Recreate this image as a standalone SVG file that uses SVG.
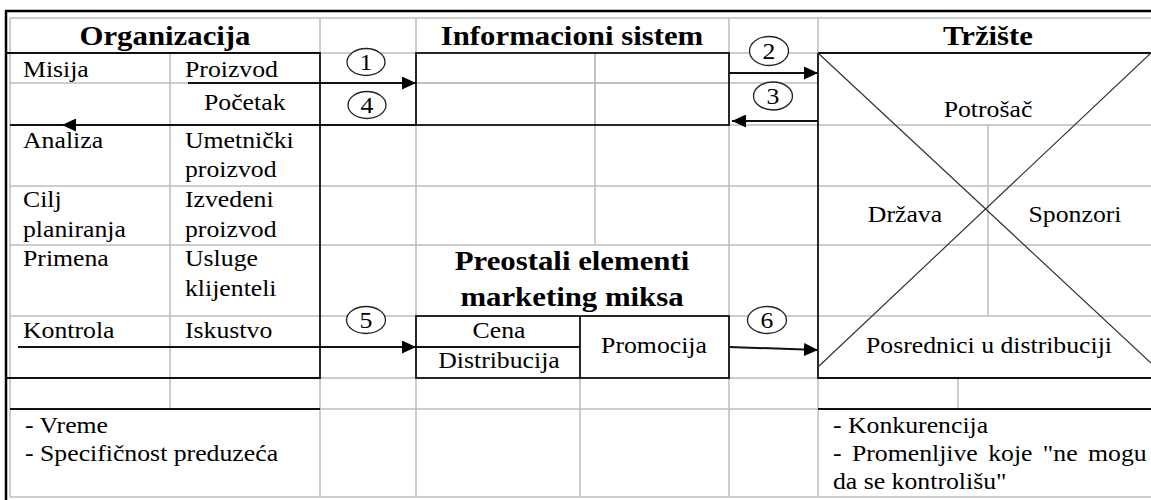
<svg xmlns="http://www.w3.org/2000/svg" width="1151" height="500" viewBox="0 0 1151 500">
<style>
.g{stroke:#bdbdbd;stroke-width:1.5;fill:none}
.b{stroke:#111;stroke-width:1.8;fill:none}
.d{stroke:#333;stroke-width:1.2;fill:none}
.t{font-size:23px;fill:#000}
.h{font-size:28px;font-weight:bold;fill:#000}
.m{text-anchor:middle}
.c{fill:#fff;stroke:#222;stroke-width:1.3}
.a{stroke:#111;stroke-width:2;fill:none;marker-end:url(#ah)}
</style>
<defs>
<marker id="ah" viewBox="0 0 14 13" refX="14" refY="6.5" markerWidth="14" markerHeight="13" markerUnits="userSpaceOnUse" orient="auto">
<path d="M0,0 L14,6.5 L0,13 z" fill="#000"/>
</marker>
</defs>
<rect width="1151" height="500" fill="#fff"/>
<g id="grid">
<path class="g" d="M10,18H1151 M10,83H818 M729,53H818 M320,53H416 M10,186H1151 M10,245H1151 M10,316H416 M729,316H1151 M320,378H416 M729,378H818 M320,409H818 M10,497H1151 M729,125H1151"/>
<path class="g" d="M10,18V497 M170,53V409 M320,18V53 M320,378V497 M416,18V53 M416,126V316 M416,378V497 M595,53V245 M580,378V497 M729,18V53 M729,126V316 M729,378V497 M818,18V53 M818,378V497 M988,125V316 M958,378V409"/>
<path d="M5,11H1151 M6,11V500" stroke="#000" stroke-width="2.5" fill="none"/>
</g>
<g font-family="Liberation Serif, Tinos, Times New Roman, DejaVu Serif, serif">
<g id="organizacija">
<path class="b" d="M6,53H320V378H6 M10,125H62 M10,409H320"/>
<text class="h m" transform="translate(165 45) scale(1.1 1)">Organizacija</text>
<text class="t" transform="translate(23 77) scale(1.12 1)">Misija</text>
<text class="t" transform="translate(185 77) scale(1.12 1)">Proizvod</text>
<text class="t" transform="translate(204 110) scale(1.12 1)">Početak</text>
<text class="t" transform="translate(23 148) scale(1.12 1)">Analiza</text>
<text class="t" transform="translate(185 148) scale(1.12 1)">Umetnički</text>
<text class="t" transform="translate(185 177) scale(1.12 1)">proizvod</text>
<text class="t" transform="translate(23 207) scale(1.12 1)">Cilj</text>
<text class="t" transform="translate(23 237) scale(1.12 1)">planiranja</text>
<text class="t" transform="translate(185 207) scale(1.12 1)">Izvedeni</text>
<text class="t" transform="translate(185 237) scale(1.12 1)">proizvod</text>
<text class="t" transform="translate(23 266) scale(1.12 1)">Primena</text>
<text class="t" transform="translate(185 266) scale(1.12 1)">Usluge</text>
<text class="t" transform="translate(185 296) scale(1.12 1)">klijenteli</text>
<text class="t" transform="translate(23 338) scale(1.12 1)">Kontrola</text>
<text class="t" transform="translate(185 338) scale(1.12 1)">Iskustvo</text>
<text class="t" transform="translate(25 433) scale(1.12 1)">- Vreme</text>
<text class="t" transform="translate(25 461) scale(1.12 1)">- Specifičnost preduzeća</text>
</g>
<g id="informacioni-sistem">
<rect class="b" x="416" y="53" width="313" height="72"/>
<path class="g" d="M417,83H728 M595,54V124"/>
<text class="h m" transform="translate(572 45) scale(1.1 1)">Informacioni sistem</text>
</g>
<g id="marketing-miks">
<text class="h m" transform="translate(572 270) scale(1.1 1)">Preostali elementi</text>
<text class="h m" transform="translate(572 306) scale(1.1 1)">marketing miksa</text>
<rect class="b" x="416" y="316" width="313" height="62"/>
<path class="b" d="M580,316V378 M416,347H580"/>
<text class="t m" transform="translate(499 338) scale(1.12 1)">Cena</text>
<text class="t m" transform="translate(499 368) scale(1.12 1)">Distribucija</text>
<text class="t m" transform="translate(654 353) scale(1.12 1)">Promocija</text>
</g>
<g id="trziste">
<path class="b" d="M818,53V378H1151 M818,53H1151 M818,409H1151"/>
<path class="d" d="M818,53L1151,363 M818,367L1151,53"/>
<text class="h m" transform="translate(988 45) scale(1.1 1)">Tržište</text>
<text class="t m" transform="translate(988 117) scale(1.12 1)">Potrošač</text>
<text class="t m" transform="translate(905 222) scale(1.12 1)">Država</text>
<text class="t m" transform="translate(1075 222) scale(1.12 1)">Sponzori</text>
<text class="t m" transform="translate(989 353) scale(1.12 1)">Posrednici u distribuciji</text>
<text class="t" transform="translate(833 433) scale(1.12 1)">- Konkurencija</text>
<text class="t" style="word-spacing:3.5px" transform="translate(833 461) scale(1.12 1)">- Promenljive koje "ne mogu</text>
<text class="t" transform="translate(833 489) scale(1.12 1)">da se kontrolišu"</text>
</g>
<g id="connectors">
<line class="a" x1="188" y1="83" x2="416" y2="83"/>
<line class="a" x1="416" y1="125" x2="62" y2="125"/>
<line class="a" x1="729" y1="73" x2="818" y2="73"/>
<line class="a" x1="818" y1="121" x2="732" y2="121"/>
<line class="a" x1="18" y1="347" x2="416" y2="347"/>
<line class="a" x1="729" y1="347" x2="818" y2="350"/>
<ellipse class="c" cx="366" cy="62" rx="19" ry="13.5"/>
<text class="t m" transform="translate(366 70) scale(1.12 1)">1</text>
<ellipse class="c" cx="367" cy="105" rx="19" ry="13.5"/>
<text class="t m" transform="translate(367 113) scale(1.12 1)">4</text>
<ellipse class="c" cx="769" cy="51" rx="19.5" ry="14.5"/>
<text class="t m" transform="translate(769 59) scale(1.12 1)">2</text>
<ellipse class="c" cx="773" cy="96" rx="19.5" ry="14"/>
<text class="t m" transform="translate(773 104) scale(1.12 1)">3</text>
<ellipse class="c" cx="366" cy="320" rx="19.5" ry="13.5"/>
<text class="t m" transform="translate(366 328) scale(1.12 1)">5</text>
<ellipse class="c" cx="767" cy="320" rx="19.5" ry="13.5"/>
<text class="t m" transform="translate(767 328) scale(1.12 1)">6</text>
</g>
</g>
</svg>
